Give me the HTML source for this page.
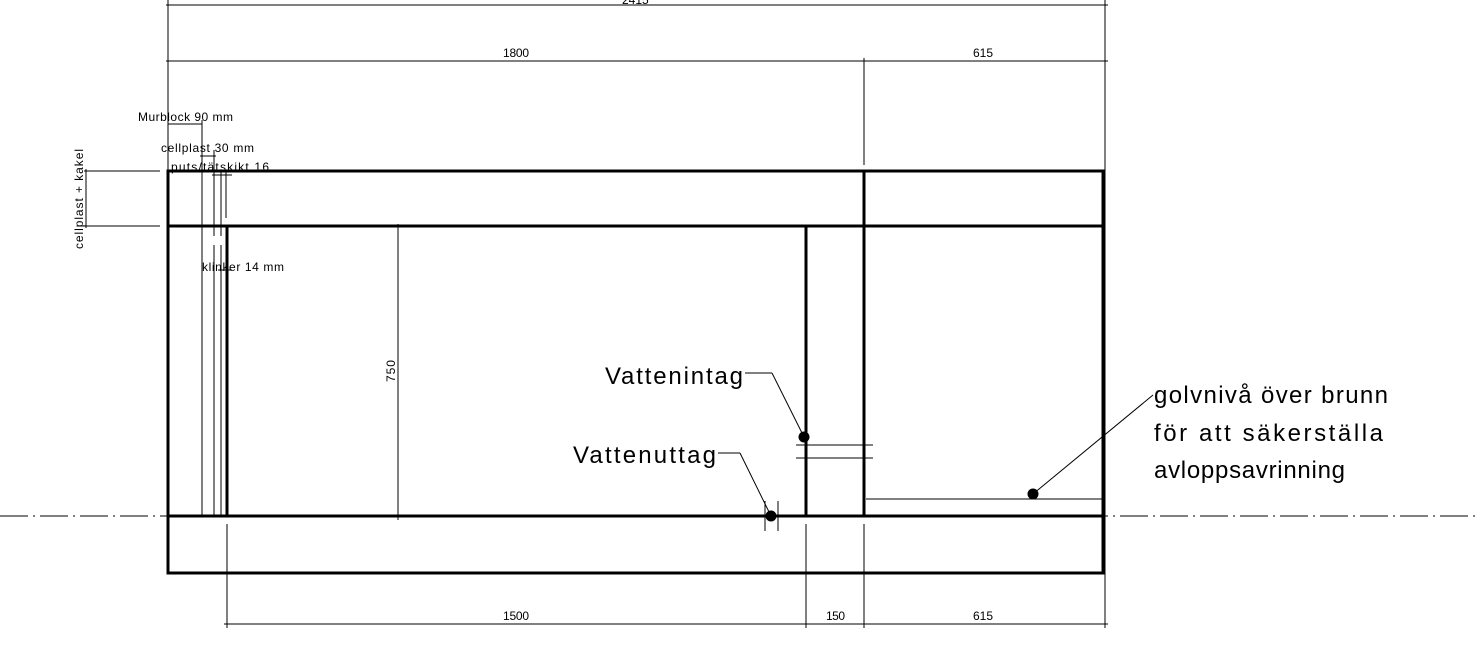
<!DOCTYPE html>
<html><head><style>html,body{margin:0;padding:0;background:#fff}svg{display:block}</style></head>
<body>
<svg width="1480" height="670" viewBox="0 0 1480 670" xmlns="http://www.w3.org/2000/svg" font-family="Liberation Sans, DejaVu Sans, sans-serif">
<g stroke="#000" fill="none">
<!-- centerline -->
<line x1="0" y1="516" x2="1480" y2="516" stroke-width="1" stroke-dasharray="28,5,2,5"/>
<!-- thick walls -->
<g stroke-width="3">
<rect x="168" y="171" width="935" height="402"/>
<line x1="168" y1="226" x2="1103" y2="226"/>
<line x1="168" y1="516" x2="1103" y2="516"/>
<line x1="864" y1="171" x2="864" y2="516"/>
<line x1="806" y1="226" x2="806" y2="516"/>
<line x1="227" y1="226" x2="227" y2="516"/>
</g>
<g stroke-width="1">
<!-- thin layer lines -->
<line x1="202" y1="120" x2="202" y2="516"/>
<line x1="214" y1="150" x2="214" y2="236"/>
<line x1="214" y1="245" x2="214" y2="516"/>
<line x1="221" y1="172" x2="221" y2="236"/>
<line x1="221" y1="245" x2="221" y2="516"/>
<line x1="226" y1="172" x2="226" y2="218"/>
<line x1="227" y1="260" x2="227" y2="276"/>
<!-- small dims -->
<line x1="168" y1="124" x2="202" y2="124"/>
<line x1="200" y1="156" x2="216" y2="156"/>
<line x1="212" y1="175" x2="232" y2="175"/>
<line x1="218" y1="270" x2="232" y2="270"/>
<!-- left vertical dim -->
<line x1="84" y1="171" x2="160" y2="171"/>
<line x1="84" y1="226" x2="160" y2="226"/>
<line x1="86" y1="169" x2="86" y2="228"/>
<!-- top dims -->
<line x1="168" y1="0" x2="168" y2="171"/>
<line x1="1105" y1="0" x2="1105" y2="516"/>
<line x1="864" y1="58" x2="864" y2="165"/>
<line x1="166" y1="5" x2="1108" y2="5"/>
<line x1="166" y1="61" x2="1108" y2="61"/>
<!-- bottom dims -->
<line x1="227" y1="524" x2="227" y2="628"/>
<line x1="806" y1="524" x2="806" y2="628"/>
<line x1="864" y1="524" x2="864" y2="628"/>
<line x1="1105" y1="516" x2="1105" y2="628"/>
<line x1="224" y1="624" x2="1108" y2="624"/>
<!-- 750 -->
<line x1="398" y1="224" x2="398" y2="520"/>
<!-- right floor line -->
<line x1="866" y1="499" x2="1103" y2="499"/>
<line x1="1033" y1="494" x2="1153" y2="395"/>
<!-- intag -->
<line x1="745" y1="373" x2="772" y2="373"/>
<line x1="772" y1="373" x2="804" y2="437"/>
<line x1="796" y1="445" x2="873" y2="445"/>
<line x1="796" y1="458" x2="873" y2="458"/>
<!-- uttag -->
<line x1="718" y1="453" x2="740" y2="453"/>
<line x1="740" y1="453" x2="771" y2="516"/>
<line x1="765" y1="501" x2="765" y2="531"/>
<line x1="778" y1="501" x2="778" y2="531"/>
</g>
</g>
<g fill="#000">
<circle cx="804" cy="437" r="5.5"/>
<circle cx="771" cy="516" r="5.5"/>
<circle cx="1033" cy="494" r="5.5"/>
</g>
<g font-size="12" fill="#000">
<text x="622" y="4" font-size="12">2415</text>
<text x="503" y="57" textLength="26">1800</text>
<text x="973" y="57" textLength="20">615</text>
<text x="503" y="620" textLength="26">1500</text>
<text x="826" y="620" textLength="19">150</text>
<text x="973" y="620" textLength="20">615</text>
<text x="138" y="121" textLength="95">Murblock 90 mm</text>
<text x="161" y="152" textLength="93">cellplast 30 mm</text>
<text x="171" y="171" textLength="98">puts/tätskikt 16</text>
<text x="202" y="271" textLength="82">klinker 14 mm</text>
<text transform="translate(83,249) rotate(-90)" textLength="100">cellplast + kakel</text>
<text transform="translate(395,382) rotate(-90)" textLength="22">750</text>
</g>
<g font-size="24" fill="#000">
<text x="605" y="384" textLength="138">Vattenintag</text>
<text x="573" y="463" textLength="143">Vattenuttag</text>
<text x="1154" y="403" textLength="234">golvnivå över brunn</text>
<text x="1154" y="441" textLength="229">för att säkerställa</text>
<text x="1154" y="478" textLength="191">avloppsavrinning</text>
</g>
</svg>
</body></html>
